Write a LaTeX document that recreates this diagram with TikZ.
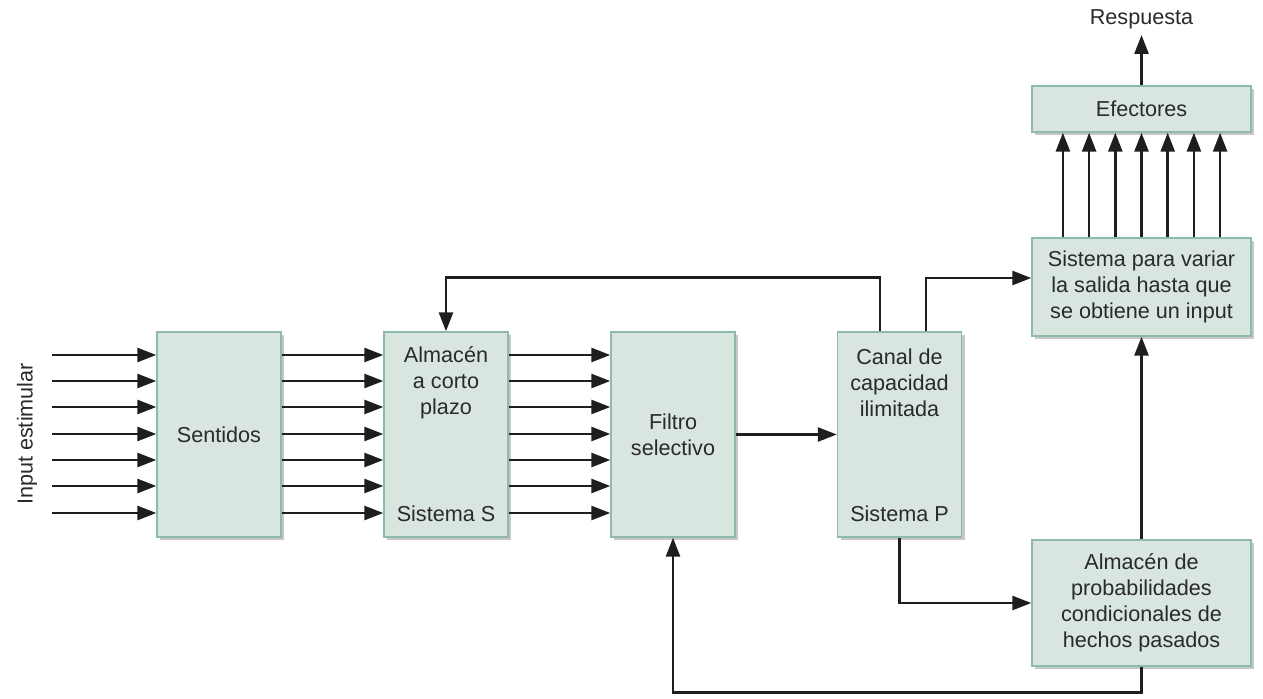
\documentclass[tikz,border=0pt]{standalone}
\usepackage{fontspec}
\setmainfont{Liberation Sans}
\usepackage{tikz}
\usetikzlibrary{arrows.meta,positioning,shadows,calc}
\definecolor{cBox}{HTML}{D8E6DF}
\definecolor{cEdge}{HTML}{8DBBA8}
\definecolor{cInk}{HTML}{1E1E1E}
\definecolor{cText}{HTML}{2A2A2A}
\tikzset{
  blk/.style  ={draw=cEdge, fill=cBox, line width=0.8pt, inner sep=0pt,
                drop shadow={shadow xshift=1.8pt, shadow yshift=-1.8pt, fill=black!40, opacity=0.55}},
  tall/.style ={blk, minimum width=2.48cm, minimum height=4.1cm},
  wide/.style ={blk, minimum width=4.38cm},
  txt/.style  ={text=cText, align=center, font=\fontsize{12.3}{14.8}\selectfont},
  arrow/.style={-{Triangle[length=3.8mm,width=2.8mm]}, line width=1.5pt, draw=cInk},
}

\begin{document}
\begin{tikzpicture}[x=0.02cm, y=-0.02cm]
  \useasboundingbox (0,0) rectangle (1263,699);
  % main chain
  \node[tall, txt] (sen) at (219,434.5) {Sentidos};
  \node[tall] (alm) at (446,434.5) {};
  \node[tall, txt] (fil) at (673,434.5) {Filtro\\selectivo};
  \node[tall] (can) at (899.5,434.5) {};
  \node[txt] (almtxt) at (446,383) {Almacén\\a corto\\plazo};
  \node[txt] (sisS) at (446,514) {Sistema S};
  \node[txt] (cantxt) at (899.5,383) {Canal de\\capacidad\\ilimitada};
  \node[txt] (sisP) at (899.5,514) {Sistema P};
  % right column
  \node[wide, txt, minimum height=0.92cm] (efe) at (1141.5,109) {Efectores};
  \node[wide, txt, minimum height=1.96cm] (var) at (1141.5,287)
    {Sistema para variar\\la salida hasta que\\se obtiene un input};
  \node[wide, txt, minimum height=2.52cm] (prob) at (1141.5,603)
    {Almacén de\\probabilidades\\condicionales de\\hechos pasados};
  \node[txt, anchor=south] (resp) at (1141.5,35) {Respuesta};
  \node[txt, rotate=90] (inp) at (27,434) {Input estimular};

  \foreach \y [count=\i] in {355,381,407,434,460,486,513} {
    \coordinate (in\i) at (52,\y);
    \draw[arrow] (in\i) -- (sen.west |- in\i);
    \draw[arrow] (sen.east |- in\i) -- (alm.west |- in\i);
    \draw[arrow] (alm.east |- in\i) -- (fil.west |- in\i);
  }
  \draw[arrow] (fil) -- (can);
  \draw[arrow] ($(can.north)+(-19.5,0)$) -- ++(0,-54) -| (alm.north);
  \draw[arrow] ($(can.north)+(26.5,0)$) |- ($(var.west)+(0,-9)$);
  \draw[arrow] (can.south) |- (prob.west);
  \draw[arrow] (prob.north) -- (var.south);
  \draw[arrow] (prob.south) -- ++(0,26) -| (fil.south);
  \foreach \d in {-3,...,3}
    \draw[arrow] ($(var.north)+(26.2*\d,0)$) -- ($(efe.south)+(26.2*\d,0)$);
  \draw[arrow] (efe.north) -- (resp.south);
\end{tikzpicture}
\end{document}
